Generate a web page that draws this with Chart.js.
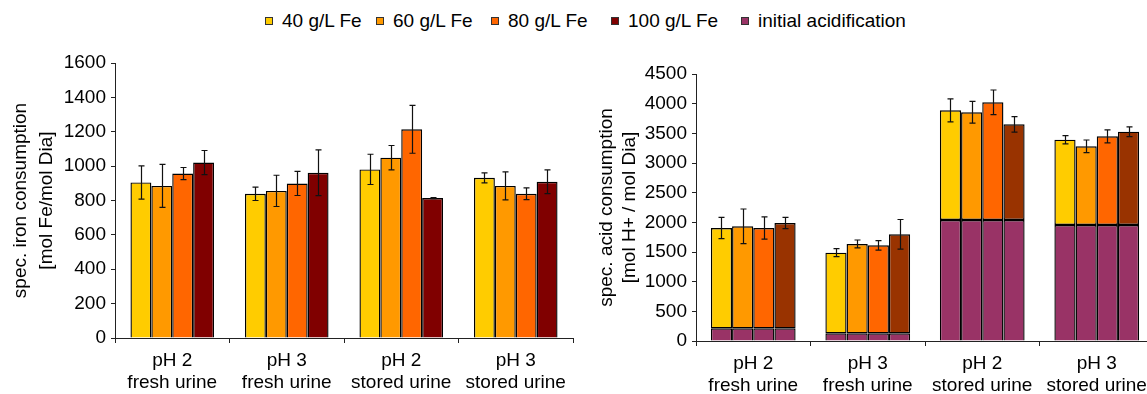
<!DOCTYPE html>
<html>
<head>
<meta charset="utf-8">
<script src="https://cdn.jsdelivr.net/npm/chart.js@4.4.0/dist/chart.umd.min.js"></script>
<style>
    html, body { margin: 0; padding: 0; background: #fff; }
    body { width: 1147px; height: 394px; overflow: hidden; position: relative; font-family: "Liberation Sans", Arial, sans-serif; }
    #legend { position: absolute; top: 10px; left: 0; width: 1147px; height: 24px; font-size: 19px; color: #000; }
    .item { position: absolute; top: 0; display: flex; align-items: center; white-space: nowrap; }
    .box { width: 6px; height: 6px; border: 1px solid #333; margin-right: 9px; }
    #leftWrap { position: absolute; left: 0; top: 0; width: 590px; height: 394px; }
    #rightWrap { position: absolute; left: 590px; top: 0; width: 570px; height: 394px; }
</style>
</head>
<body>
<div id="legend"></div>
<div id="leftWrap"><canvas id="ironChart"></canvas></div>
<div id="rightWrap"><canvas id="acidChart"></canvas></div>
<script>
    // categories
    const categories = [['pH 2', 'fresh urine'], ['pH 3', 'fresh urine'], ['pH 2', 'stored urine'], ['pH 3', 'stored urine']];
    const seriesNames = ['40 g/L Fe', '60 g/L Fe', '80 g/L Fe', '100 g/L Fe'];

    // left: spec. iron consumption [mol Fe/mol Dia]
    const iron40 = [905, 839, 981, 932];
    const iron60 = [885, 856, 1049, 885];
    const iron80 = [957, 899, 1214, 839];
    const iron100 = [1021, 961, 814, 909];
    const ironErr40 = [97, 39, 88, 29];
    const ironErr60 = [125, 91, 71, 81];
    const ironErr80 = [35, 70, 139, 34];
    const ironErr100 = [70, 133, 3, 69];

    // right: spec. acid consumption, totals per bar [mol H+ / mol Dia]
    const acidInitial = [213, 129, 2039, 1955];
    const acid40 = [1904, 1489, 3888, 3393];
    const acid60 = [1933, 1635, 3854, 3281];
    const acid80 = [1904, 1612, 4022, 3449];
    const acid100 = [1989, 1798, 3652, 3528];
    const acidErr40 = [180, 67, 194, 70];
    const acidErr60 = [292, 67, 183, 107];
    const acidErr80 = [188, 81, 208, 110];
    const acidErr100 = [96, 250, 130, 82];

    const ironTicks = { min: 0, max: 1600, step: 200 };
    const acidTicks = { min: 0, max: 4500, step: 500 };

    const colors = ['#FFCC00', '#FF9900', '#FF6600', '#800000'];
    const acidColors = ['#FFCC00', '#FF9900', '#FF6600', '#993300'];
    const initialColor = '#993366';

    const FONT = '"Liberation Sans", Arial, sans-serif';

    // legend (HTML, shared by both panels)
    const legendEl = document.getElementById('legend');
    const legendLeft = [265, 376, 491, 611, 741];
    seriesNames.concat(['initial acidification']).forEach((name, i) => {
        const c = i < 4 ? colors[i] : initialColor;
        legendEl.innerHTML += `<div class="item" style="left:${legendLeft[i]}px"><span class="box" style="background:${c}"></span>${name}</div>`;
    });

    // error bars drawn from the y scale
    const errorBars = {
        id: 'errorBars',
        afterDatasetsDraw(chart) {
            const ctx = chart.ctx;
            const y = chart.scales.y;
            ctx.save();
            ctx.strokeStyle = '#111';
            ctx.lineWidth = 1.2;
            chart.data.datasets.forEach((ds, di) => {
                if (!ds.errors) return;
                const meta = chart.getDatasetMeta(di);
                meta.data.forEach((bar, i) => {
                    const top = ds.tops[i], err = ds.errors[i];
                    const yHi = y.getPixelForValue(top + err);
                    const yLo = y.getPixelForValue(top - err);
                    const x = Math.round(bar.x) + 0.5;
                    ctx.beginPath();
                    ctx.moveTo(x, yHi); ctx.lineTo(x, yLo);
                    ctx.moveTo(x - 3, yHi); ctx.lineTo(x + 3, yHi);
                    ctx.moveTo(x - 3, yLo); ctx.lineTo(x + 3, yLo);
                    ctx.stroke();
                });
            });
            ctx.restore();
        }
    };

    function axisScales(tk, yWidth, xHeight, title, titlePad, titleLH) {
        return {
            x: {
                grid: { display: true, drawOnChartArea: false, drawTicks: true, tickLength: 5, color: '#222', offset: true },
                border: { display: true, color: '#222', width: 1 },
                ticks: { color: '#000', font: { family: FONT, size: 19, lineHeight: 1.16 }, padding: 7, maxRotation: 0, autoSkip: false },
                afterFit: s => { s.height = xHeight; }
            },
            y: {
                min: tk.min, max: tk.max,
                grid: { display: true, drawOnChartArea: false, drawTicks: true, tickLength: 4, color: '#222' },
                border: { display: true, color: '#222', width: 1 },
                ticks: { stepSize: tk.step, color: '#000', font: { family: FONT, size: 19 }, padding: 5, callback: v => String(v) },
                title: { display: true, text: title, color: '#000', font: { family: FONT, size: 19, lineHeight: titleLH }, padding: { top: titlePad, bottom: 0 } },
                afterFit: s => { s.width = yWidth; }
            }
        };
    }

    const ironSets = [iron40, iron60, iron80, iron100];
    const ironErrs = [ironErr40, ironErr60, ironErr80, ironErr100];

    new Chart(document.getElementById('ironChart'), {
        type: 'bar',
        data: {
            labels: categories,
            datasets: ironSets.map((d, i) => ({
                label: seriesNames[i],
                data: d,
                tops: d,
                errors: ironErrs[i],
                backgroundColor: colors[i],
                borderColor: '#000',
                borderWidth: 1.4,
                barPercentage: 1,
                categoryPercentage: 0.73
            }))
        },
        options: {
            responsive: true,
            maintainAspectRatio: false,
            animation: false,
            layout: { padding: { top: 63, right: 17, bottom: 0, left: 0 } },
            plugins: { legend: { display: false }, tooltip: { enabled: false } },
            scales: axisScales(ironTicks, 115, 56, ['spec. iron consumption', '[mol Fe/mol Dia]'], 8, 1.37)
        },
        plugins: [errorBars]
    });

    const acidSets = [acid40, acid60, acid80, acid100];
    const acidErrs = [acidErr40, acidErr60, acidErr80, acidErr100];
    const acidDatasets = [];
    acidSets.forEach((d, i) => {
        acidDatasets.push({
            label: 'initial acidification',
            data: acidInitial,
            stack: 's' + i,
            backgroundColor: initialColor,
            borderColor: '#000',
            borderWidth: 1.4,
            borderSkipped: 'start',
            barPercentage: 1,
            categoryPercentage: 0.74
        });
    });
    acidSets.forEach((d, i) => {
        acidDatasets.push({
            label: seriesNames[i],
            data: d.map((v, j) => v - acidInitial[j]),
            tops: d,
            errors: acidErrs[i],
            stack: 's' + i,
            backgroundColor: acidColors[i],
            borderColor: '#000',
            borderWidth: 1.4,
            borderSkipped: false,
            barPercentage: 1,
            categoryPercentage: 0.74
        });
    });

    const acidScales = axisScales(acidTicks, 106, 53, ['spec. acid consumption', '[mol H+ / mol Dia]'], 5, 1.21);
    acidScales.x.stacked = true;
    acidScales.y.stacked = true;

    new Chart(document.getElementById('acidChart'), {
        type: 'bar',
        data: { labels: categories, datasets: acidDatasets },
        options: {
            responsive: true,
            maintainAspectRatio: false,
            animation: false,
            layout: { padding: { top: 74, right: 6, bottom: 0, left: 0 } },
            plugins: { legend: { display: false }, tooltip: { enabled: false } },
            scales: acidScales
        },
        plugins: [errorBars]
    });
</script>
</body>
</html>
